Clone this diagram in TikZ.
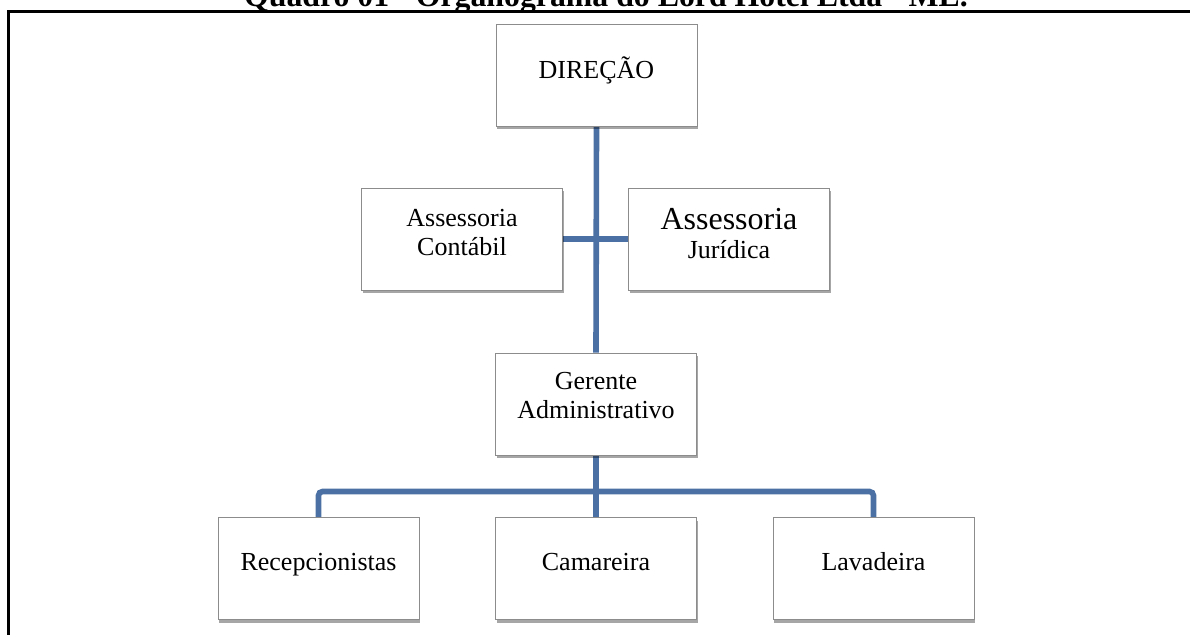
\documentclass[tikz,border=0pt]{standalone}
\usepackage{fontspec}
\setmainfont{Liberation Serif}
\usetikzlibrary{shadows}
\pgfdeclarelayer{bg}
\pgfsetlayers{bg,main}
\definecolor{connblue}{RGB}{74,112,164}
\definecolor{boxgray}{RGB}{140,140,140}
\tikzset{
  orgbox/.style={draw=boxgray, line width=0.5pt, fill=white,
    minimum width=100.5pt, minimum height=51pt, inner sep=0pt,
    drop shadow={shadow xshift=0.5pt, shadow yshift=-1.6pt, fill=black, opacity=0.35}},
  boxtext/.style={font=\fontsize{13}{14.2}\selectfont, align=center, anchor=base, inner sep=0pt},
  conn/.style={draw=connblue, line width=2.8pt},
  frameline/.style={draw=black, line width=1.5pt}
}
\begin{document}
\begin{tikzpicture}[x=0.5pt, y=-0.5pt]
\useasboundingbox (0,0) rectangle (1190,634);
\clip (0,0) rectangle (1190,634);
% title and frame
\node[font=\bfseries\fontsize{15.9}{18}\selectfont, anchor=base, inner sep=0pt] (title) at (606,6) {Quadro 01 - Organograma do Lord Hotel Ltda - ME.};
\draw[frameline] (8,660) |- (1220,11.5);
% boxes
\node[orgbox] (dir) at (596.5,75) {};
\node[orgbox] (con) at (462,239) {};
\node[orgbox] (jur) at (729,239) {};
\node[orgbox] (ger) at (596,404) {};
\node[orgbox] (rec) at (318.5,568.5) {};
\node[orgbox] (cam) at (596,568.5) {};
\node[orgbox] (lav) at (873.5,568.5) {};
% texts (base anchor = baseline of the last line)
\node[boxtext] (dirT) at (596.5,78) {DIREÇÃO};
\node[boxtext] (conT) at (462,255) {Assessoria\\Contábil};
\node[boxtext] (jurT) at (729,258) {{\fontsize{16}{17}\selectfont Assessoria}\\Jurídica};
\node[boxtext] (gerT) at (596,418) {Gerente\\Administrativo};
\node[boxtext] (recT) at (318.5,570) {Recepcionistas};
\node[boxtext] (camT) at (596,570) {Camareira};
\node[boxtext] (lavT) at (873.5,570) {Lavadeira};
% connectors
\coordinate (bus) at (596,491.5);
\begin{pgfonlayer}{bg}
\draw[conn] (dir.south) -- (ger.north);
\draw[conn] (con.east) -- (jur.west);
\draw[conn] (ger.south) -- (cam.north);
\draw[conn, rounded corners=2pt] (rec.north) |- (bus) -| (lav.north);
\end{pgfonlayer}
\end{tikzpicture}
\end{document}
